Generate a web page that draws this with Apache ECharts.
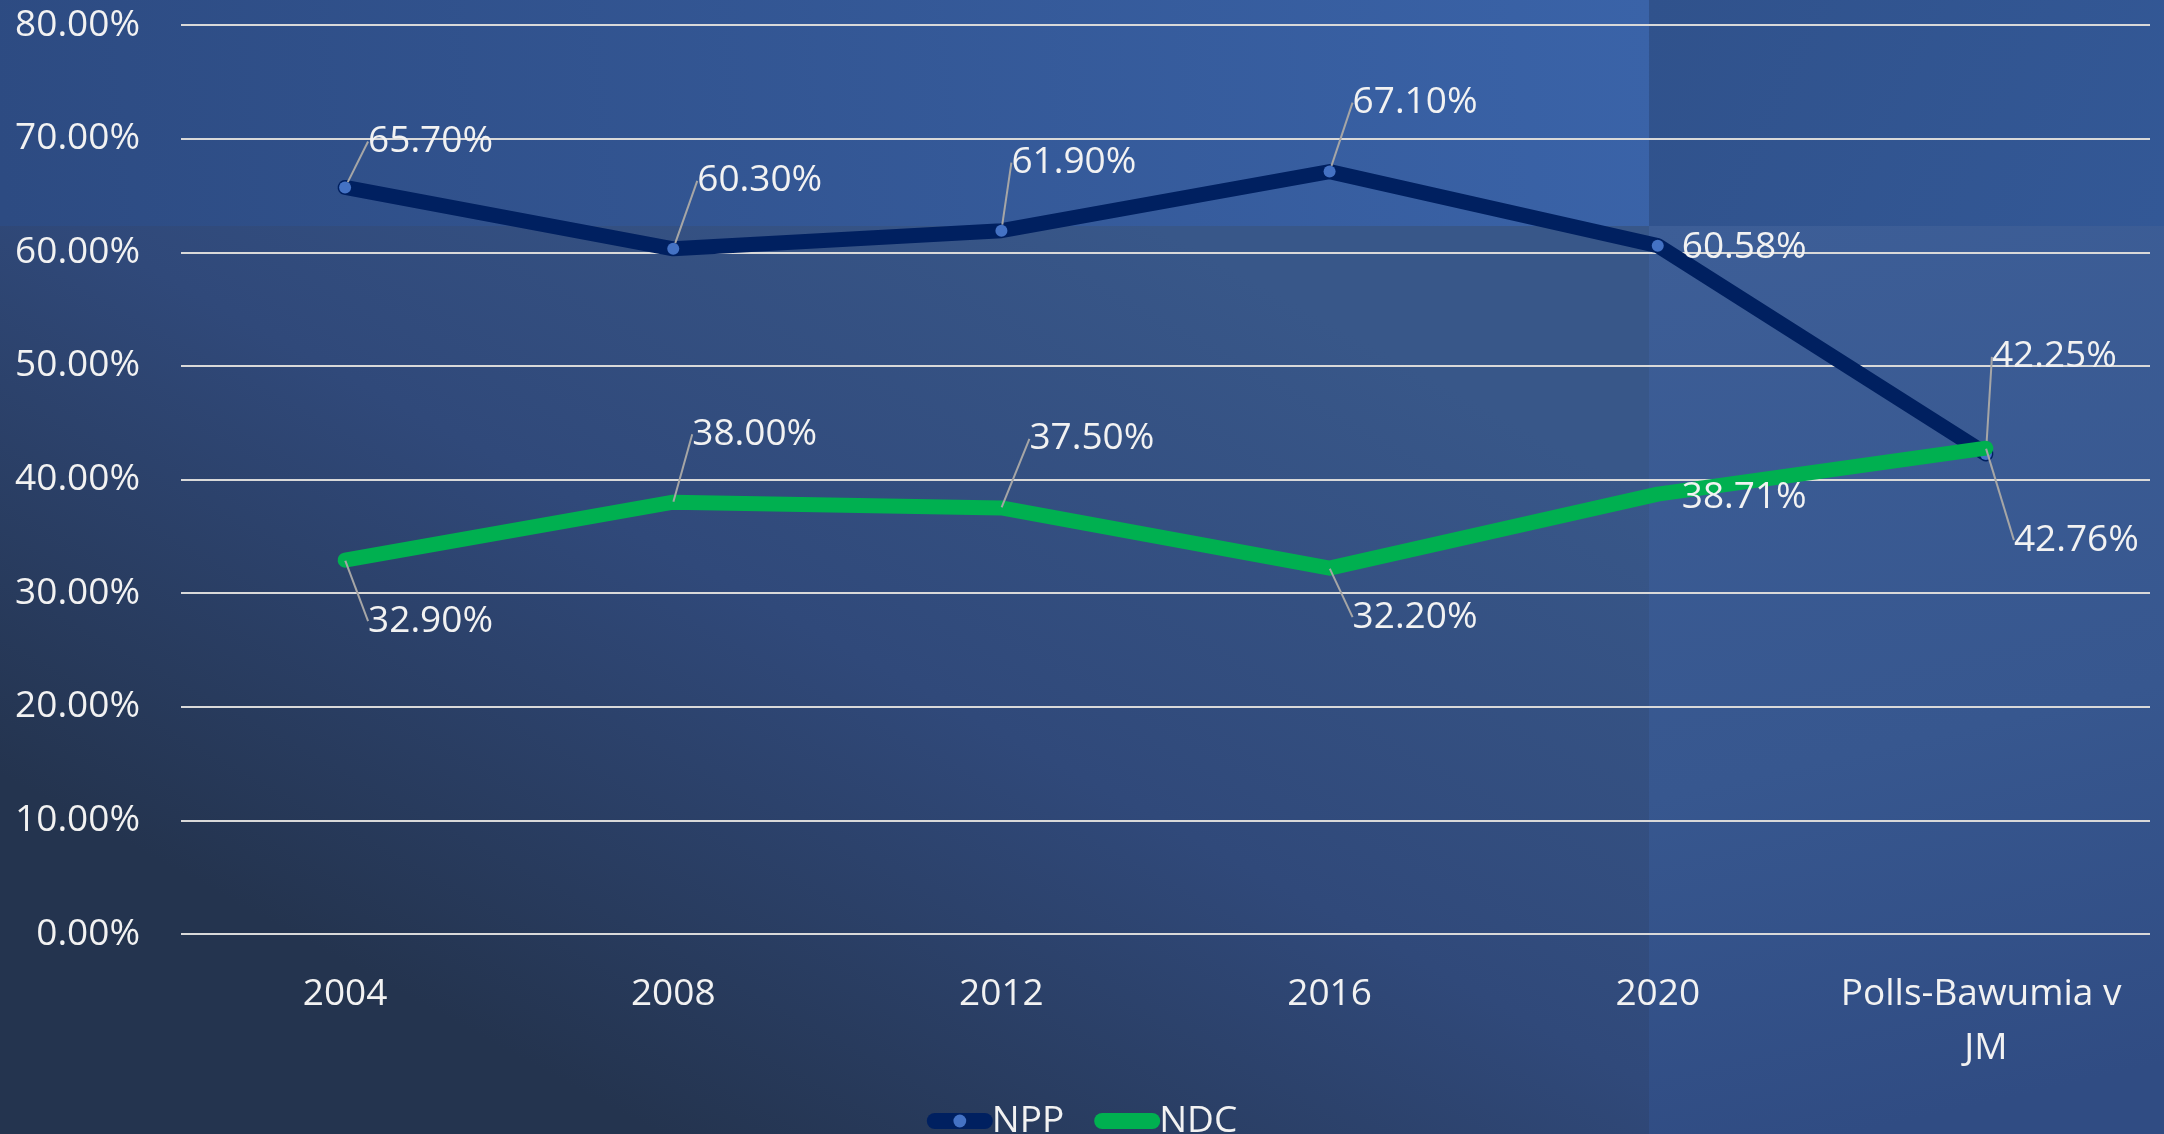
<!DOCTYPE html>
<html>
<head>
<meta charset="utf-8">
<style>
html,body{margin:0;padding:0;background:#2a3f66;}
#chart{width:2164px;height:1134px;}
</style>
<script src="https://cdn.jsdelivr.net/npm/echarts@6/dist/echarts.min.js"></script>
</head>
<body>
<div id="chart"></div>
<script>
// ---- data ----
const categories = ['2004', '2008', '2012', '2016', '2020', 'Polls-Bawumia v JM'];
const nppValues = [65.70, 60.30, 61.90, 67.10, 60.58, 42.25];
const ndcValues = [32.90, 38.00, 37.50, 32.20, 38.71, 42.76];
const yTicks = { min: 0, max: 80, interval: 10 };

// ---- label placement (style: offset of label's left/middle from the point) ----
const labelOffsets = [
  [[23, -46], [24, -68], [10, -68], [23, -69], [24, 2], [6, -97]],
  [[23, 61], [19, -68], [28, -69], [23, 49], [24, 3], [28, 92]]
];
const noLeaderIndex = 4; // labels sitting next to their point (no leader line)

const FONT = 'Open Sans';
const TXT = '#f2f2f2';
const FS = 37;

const chart = echarts.init(document.getElementById('chart'));

function layoutFn(params) {
  const off = labelOffsets[params.seriesIndex][params.dataIndex];
  const cx = params.rect.x + params.rect.width / 2;
  const cy = params.rect.y + params.rect.height / 2;
  return { x: cx + off[0], y: cy + off[1], align: 'left', verticalAlign: 'middle' };
}

const labelCommon = {
  show: true,
  position: 'inside',
  color: TXT,
  fontFamily: FONT,
  fontSize: FS,
  formatter: p => p.value.toFixed(2) + '%'
};
const labelLineCommon = {
  show: true,
  length2: 0,
  lineStyle: { color: '#a6a6a6', width: 2 }
};
function toItems(values) {
  return values.map((v, i) => i === noLeaderIndex ? { value: v, labelLine: { show: false } } : v);
}

chart.setOption({
  animation: false,
  backgroundColor: 'transparent',
  graphic: {
    elements: [
      { type: 'rect', z: -10, silent: true, shape: { x: 0, y: 0, width: 2164, height: 1134 },
        style: { fill: '#2c4470' } },
      { type: 'rect', z: -9, silent: true, shape: { x: 0, y: 226, width: 1649, height: 908 },
        style: { fill: new echarts.graphic.LinearGradient(0.7, 0, 0.4, 1, [
          { offset: 0, color: '#385789' }, { offset: 0.5, color: '#30497a' }, { offset: 1, color: '#24344f' }]) } },
      { type: 'rect', z: -9, silent: true, shape: { x: 0, y: 0, width: 1649, height: 226 },
        style: { fill: new echarts.graphic.LinearGradient(0, 0.7, 1, 0, [
          { offset: 0, color: '#2d4b82' }, { offset: 1, color: '#3a63a8' }]) } },
      { type: 'rect', z: -9, silent: true, shape: { x: 1649, y: 0, width: 515, height: 226 },
        style: { fill: new echarts.graphic.LinearGradient(0, 0, 1, 1, [
          { offset: 0, color: '#30528c' }, { offset: 1, color: '#335896' }]) } },
      { type: 'rect', z: -9, silent: true, shape: { x: 1649, y: 226, width: 515, height: 908 },
        style: { fill: new echarts.graphic.LinearGradient(0, 0, 0.4, 1, [
          { offset: 0, color: '#3d5e97' }, { offset: 0.6, color: '#37578f' }, { offset: 1, color: '#304c83' }]) } }
    ]
  },
  grid: { left: 181, right: 14, top: 25, bottom: 200, containLabel: false },
  legend: {
    data: ['NPP', 'NDC'],
    left: 'center',
    top: 1094,
    itemWidth: 50,
    itemHeight: 16,
    itemGap: 30,
    lineStyle: { width: 16, cap: 'round' },
    textStyle: { color: TXT, fontFamily: FONT, fontSize: FS, lineHeight: 44, padding: [0, 0, 0, 2] }
  },
  xAxis: {
    type: 'category',
    data: categories,
    boundaryGap: true,
    axisLine: { show: false },
    axisTick: { show: false },
    axisLabel: {
      color: TXT, fontFamily: FONT, fontSize: FS, margin: 33,
      lineHeight: 54, width: 310, overflow: 'break', interval: 0
    },
    splitLine: { show: false }
  },
  yAxis: {
    type: 'value',
    min: yTicks.min, max: yTicks.max, interval: yTicks.interval,
    axisLine: { show: false },
    axisTick: { show: false },
    axisLabel: {
      color: TXT, fontFamily: FONT, fontSize: FS, margin: 41,
      formatter: v => v.toFixed(2) + '%'
    },
    splitLine: { show: true, lineStyle: { color: '#d9d9d9', width: 2 } }
  },
  series: [
    {
      name: 'NPP', type: 'line', data: toItems(nppValues), z: 3,
      symbol: 'circle', symbolSize: 12,
      itemStyle: { color: '#4472c4', borderWidth: 0 },
      lineStyle: { color: '#002060', width: 15, cap: 'round', join: 'round' },
      label: labelCommon,
      labelLine: labelLineCommon,
      labelLayout: layoutFn
    },
    {
      name: 'NDC', type: 'line', data: toItems(ndcValues), z: 4,
      symbol: 'circle', symbolSize: 1,
      itemStyle: { color: '#00b050', borderWidth: 0 },
      lineStyle: { color: '#00b050', width: 15, cap: 'round', join: 'round' },
      label: labelCommon,
      labelLine: labelLineCommon,
      labelLayout: layoutFn
    }
  ]
});
</script>
</body>
</html>
